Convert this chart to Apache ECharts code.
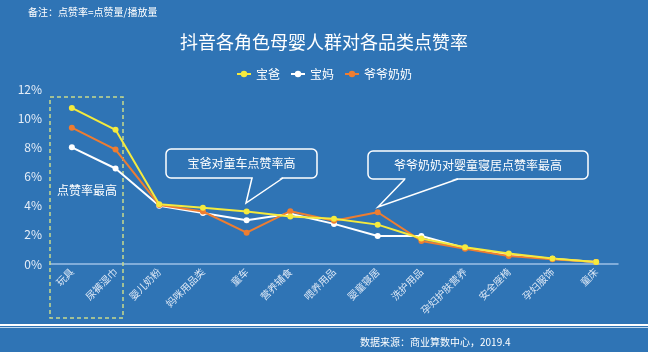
<!DOCTYPE html>
<html>
<head>
<meta charset="utf-8">
<title>抖音各角色母婴人群对各品类点赞率</title>
<script src="https://cdn.jsdelivr.net/npm/echarts@6/dist/echarts.min.js"></script>
<style>
  html, body { margin: 0; padding: 0; background: #2F74B5; }
  #chart { width: 648px; height: 352px; }
</style>
</head>
<body>
<div id="chart"></div>
<script>
// 品类
var categories = ['玩具', '尿裤湿巾', '婴儿奶粉', '妈咪用品类', '童车', '营养辅食', '喂养用品',
  '婴童寝居', '洗护用品', '孕妇护肤营养', '安全座椅', '孕妇服饰', '童床'];
// 点赞率 (%)
var baba = [10.7, 9.2, 4.1, 3.85, 3.6, 3.25, 3.1, 2.7, 1.75, 1.15, 0.72, 0.38, 0.14];
var mama = [8.0, 6.55, 4.0, 3.5, 3.0, 3.45, 2.75, 1.92, 1.92, 1.1, 0.64, 0.36, 0.14];
var grand = [9.35, 7.85, 4.05, 3.6, 2.15, 3.62, 2.97, 3.55, 1.58, 1.05, 0.55, 0.33, 0.13];
var yTicks = [0, 2, 4, 6, 8, 10, 12];

var bg = '#2F74B5';
var font = '"Noto Sans CJK SC", "Noto Sans", sans-serif';

var chartDom = document.getElementById('chart');
var myChart = echarts.init(chartDom);
var option;

function lineSeries(name, data, color) {
  return {
    name: name,
    type: 'line',
    data: data,
    symbol: 'circle',
    symbolSize: 6,
    lineStyle: { color: color, width: 2 },
    itemStyle: { color: color },
    z: name == '宝妈' ? 2 : 3
  };
}

// 标注框: 圆角框 + 指针
function callout(x, y, w, h, baseL, baseR, tipX, tipY, text) {
  return [
    {
      type: 'rect',
      shape: { x: x, y: y, width: w, height: h, r: 5 },
      style: { fill: 'none', stroke: '#ffffff', lineWidth: 1.5 },
      z: 10
    },
    {
      type: 'polygon',
      shape: { points: [[baseL + 1, y + h - 1], [baseR - 1, y + h - 1], [tipX, tipY]] },
      style: { fill: bg },
      z: 11
    },
    {
      type: 'polyline',
      shape: { points: [[baseL, y + h], [tipX, tipY], [baseR, y + h]] },
      style: { fill: 'none', stroke: '#ffffff', lineWidth: 1.5 },
      z: 12
    },
    {
      type: 'text', x: x + w / 2, y: y + h / 2, z: 12,
      style: { text: text, fill: '#ffffff', font: '12px ' + font, align: 'center', verticalAlign: 'middle' }
    }
  ];
}

option = {
  backgroundColor: bg,
  textStyle: { fontFamily: font },
  legend: {
    top: 63,
    left: 'center',
    itemWidth: 14,
    itemHeight: 8,
    itemGap: 10,
    textStyle: { color: '#ffffff', fontSize: 12, fontFamily: font },
    data: ['宝爸', '宝妈', '爷爷奶奶']
  },
  grid: { left: 50, right: 30, top: 89, bottom: 88 },
  xAxis: {
    type: 'category',
    data: categories,
    boundaryGap: true,
    axisLine: { lineStyle: { color: '#9DC0E6', width: 1.5 } },
    axisTick: { show: false },
    axisLabel: { rotate: 45, color: '#DCE7F5', fontSize: 10, margin: 6, interval: 0, fontFamily: font }
  },
  yAxis: {
    type: 'value',
    min: yTicks[0],
    max: yTicks[yTicks.length - 1],
    interval: 2,
    splitLine: { show: false },
    axisLine: { show: false },
    axisTick: { show: false },
    axisLabel: { formatter: '{value}%', color: '#E6EEF8', fontSize: 12, margin: 8, fontFamily: font }
  },
  series: [
    lineSeries('宝妈', mama, '#ffffff'),
    lineSeries('爷爷奶奶', grand, '#ED7D31'),
    lineSeries('宝爸', baba, '#F5EA3D')
  ],
  graphic: [
    {
      type: 'text', x: 28, y: 12,
      style: { text: '备注：点赞率=点赞量/播放量', fill: '#ffffff', font: '10px ' + font, verticalAlign: 'middle' }
    },
    {
      type: 'text', x: 324, y: 42,
      style: { text: '抖音各角色母婴人群对各品类点赞率', fill: '#ffffff', font: '18px ' + font, align: 'center', verticalAlign: 'middle' }
    },
    // 虚线框
    {
      type: 'rect',
      shape: { x: 50, y: 97, width: 73, height: 221 },
      style: { fill: 'none', stroke: '#C8D98C', lineWidth: 1.5, lineDash: [4, 3] },
      z: 1
    },
    {
      type: 'text', x: 87, y: 190,
      style: { text: '点赞率最高', fill: '#ffffff', font: '12px ' + font, align: 'center', verticalAlign: 'middle' }
    }
  ].concat(
    callout(166, 149, 151, 29, 252, 283, 246, 203, '宝爸对童车点赞率高'),
    callout(368, 151, 220, 28, 405, 458, 378, 207, '爷爷奶奶对婴童寝居点赞率最高'),
    [
      // 底部分割线
      { type: 'rect', shape: { x: 0, y: 324, width: 648, height: 2 }, style: { fill: '#ffffff' } },
      { type: 'rect', shape: { x: 0, y: 327, width: 648, height: 1 }, style: { fill: '#BFD7EE' } },
      {
        type: 'text', x: 360, y: 342,
        style: { text: '数据来源：商业算数中心，2019.4', fill: '#ffffff', font: '10px ' + font, verticalAlign: 'middle' }
      }
    ]
  )
};

option && myChart.setOption(option);
</script>
</body>
</html>
